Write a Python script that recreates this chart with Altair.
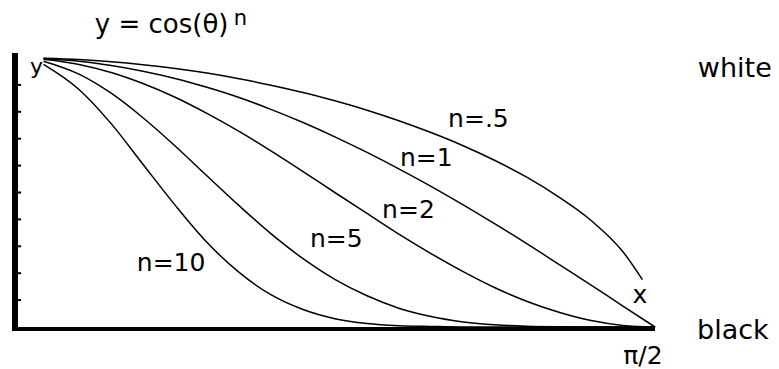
import altair as alt
import pandas as pd

# Angle samples (radians) and the curves y = cos(theta)^n read at those angles
theta = [0.070, 0.157, 0.236, 0.314, 0.393, 0.471, 0.550, 0.628, 0.707, 0.785,
         0.864, 0.942, 1.021, 1.100, 1.178, 1.257, 1.335, 1.414, 1.492, 1.571]
theta_half = theta[:-1] + [1.540]  # the n=.5 curve stops short of pi/2

n_half = [0.999, 0.994, 0.986, 0.975, 0.961, 0.944, 0.923, 0.899, 0.872, 0.841,
          0.806, 0.767, 0.723, 0.674, 0.619, 0.556, 0.483, 0.396, 0.280, 0.176]
n_one = [0.998, 0.988, 0.972, 0.951, 0.924, 0.891, 0.853, 0.809, 0.760, 0.707,
         0.649, 0.588, 0.523, 0.454, 0.383, 0.309, 0.233, 0.156, 0.078, 0.000]
n_two = [0.995, 0.976, 0.946, 0.905, 0.854, 0.794, 0.727, 0.655, 0.578, 0.500,
         0.422, 0.345, 0.273, 0.206, 0.146, 0.095, 0.055, 0.024, 0.006, 0.000]
n_five = [0.988, 0.940, 0.869, 0.778, 0.673, 0.562, 0.451, 0.347, 0.254, 0.177,
          0.116, 0.070, 0.039, 0.019, 0.008, 0.003, 0.001, 0.000, 0.000, 0.000]
n_ten = [0.976, 0.883, 0.756, 0.605, 0.453, 0.315, 0.203, 0.120, 0.065, 0.031,
         0.013, 0.005, 0.002, 0.000, 0.000, 0.000, 0.000, 0.000, 0.000, 0.000]

series = [
    (".5", theta_half, n_half),
    ("1", theta, n_one),
    ("2", theta, n_two),
    ("5", theta, n_five),
    ("10", theta, n_ten),
]

# Curve labels: text, angle of left edge, baseline value
label_text = ["n=.5", "n=1", "n=2", "n=5", "n=10"]
label_theta = [1.063, 0.945, 0.901, 0.724, 0.299]
label_value = [0.744, 0.599, 0.405, 0.297, 0.208]

# Annotation texts around the frame
note_text = ["y = cos(θ)", "n", "y", "white", "black", "π/2", "x"]
note_theta = [0.196, 0.537, 0.037, 1.676, 1.674, 1.541, 1.534]
note_value = [1.093, 1.123, 0.941, 0.929, -0.045, -0.138, 0.089]
note_size = [26, 21, 22, 27, 27, 25, 25]
note_align = ["left", "left", "left", "left", "left", "center", "center"]

tick_values = [0.1, 0.2, 0.3, 0.4, 0.5, 0.6, 0.7, 0.8, 0.9]

HALF_PI = 1.5708
FONT = "DejaVu Sans"

rows = []
for n, th, vals in series:
    for t, v in zip(th, vals):
        rows.append({"n": n, "theta": t, "value": v})
curves_df = pd.DataFrame(rows)

x_scale = alt.Scale(domain=[0, HALF_PI], nice=False, zero=False)
y_scale = alt.Scale(domain=[0, 1], nice=False, zero=False)

curves = alt.Chart(curves_df).mark_line(
    color="black", strokeWidth=1.5, interpolate="monotone"
).encode(
    x=alt.X("theta:Q", scale=x_scale, axis=None),
    y=alt.Y("value:Q", scale=y_scale, axis=None),
    detail="n:N",
)

# Thick frame lines with short inward ticks on the vertical one
left_axis = alt.Chart(pd.DataFrame({"x": [0.0], "y": [-0.015], "y2": [1.019]})).mark_rule(
    color="black", strokeWidth=6, strokeCap="butt"
).encode(
    x=alt.X("x:Q", scale=x_scale, axis=None),
    y=alt.Y("y:Q", scale=y_scale, axis=None),
    y2="y2:Q",
)

bottom_axis = alt.Chart(pd.DataFrame({"x": [-0.0074], "x2": [HALF_PI], "y": [-0.0074]})).mark_rule(
    color="black", strokeWidth=4, strokeCap="butt"
).encode(
    x=alt.X("x:Q", scale=x_scale, axis=None),
    x2="x2:Q",
    y=alt.Y("y:Q", scale=y_scale, axis=None),
)

ticks_df = pd.DataFrame({"v": tick_values, "x": [0.0074] * len(tick_values),
                         "x2": [0.0150] * len(tick_values)})
ticks = alt.Chart(ticks_df).mark_rule(color="black", strokeWidth=2).encode(
    x=alt.X("x:Q", scale=x_scale, axis=None),
    x2="x2:Q",
    y=alt.Y("v:Q", scale=y_scale, axis=None),
)

labels_df = pd.DataFrame({"text": label_text, "theta": label_theta, "value": label_value})
labels = alt.Chart(labels_df).mark_text(
    font=FONT, fontSize=25, align="left", baseline="alphabetic", color="black"
).encode(
    x=alt.X("theta:Q", scale=x_scale, axis=None),
    y=alt.Y("value:Q", scale=y_scale, axis=None),
    text="text:N",
)

notes_df = pd.DataFrame({"text": note_text, "theta": note_theta, "value": note_value,
                         "size": note_size, "align": note_align})
notes_left = alt.Chart(notes_df[notes_df["align"] == "left"]).mark_text(
    font=FONT, align="left", baseline="alphabetic", color="black"
).encode(
    x=alt.X("theta:Q", scale=x_scale, axis=None),
    y=alt.Y("value:Q", scale=y_scale, axis=None),
    text="text:N",
    size=alt.Size("size:Q", scale=None, legend=None),
)
notes_center = alt.Chart(notes_df[notes_df["align"] == "center"]).mark_text(
    font=FONT, align="center", baseline="alphabetic", color="black"
).encode(
    x=alt.X("theta:Q", scale=x_scale, axis=None),
    y=alt.Y("value:Q", scale=y_scale, axis=None),
    text="text:N",
    size=alt.Size("size:Q", scale=None, legend=None),
)

chart = alt.layer(
    curves, left_axis, bottom_axis, ticks, labels, notes_left, notes_center
).properties(
    width=640,
    height=269,
    autosize=alt.AutoSizeParams(type="none"),
    padding={"left": 15, "top": 58, "right": 124, "bottom": 42},
    background="white",
).configure_view(stroke=None)

chart.save("out.html", embed_options={"renderer": "svg", "actions": False})
